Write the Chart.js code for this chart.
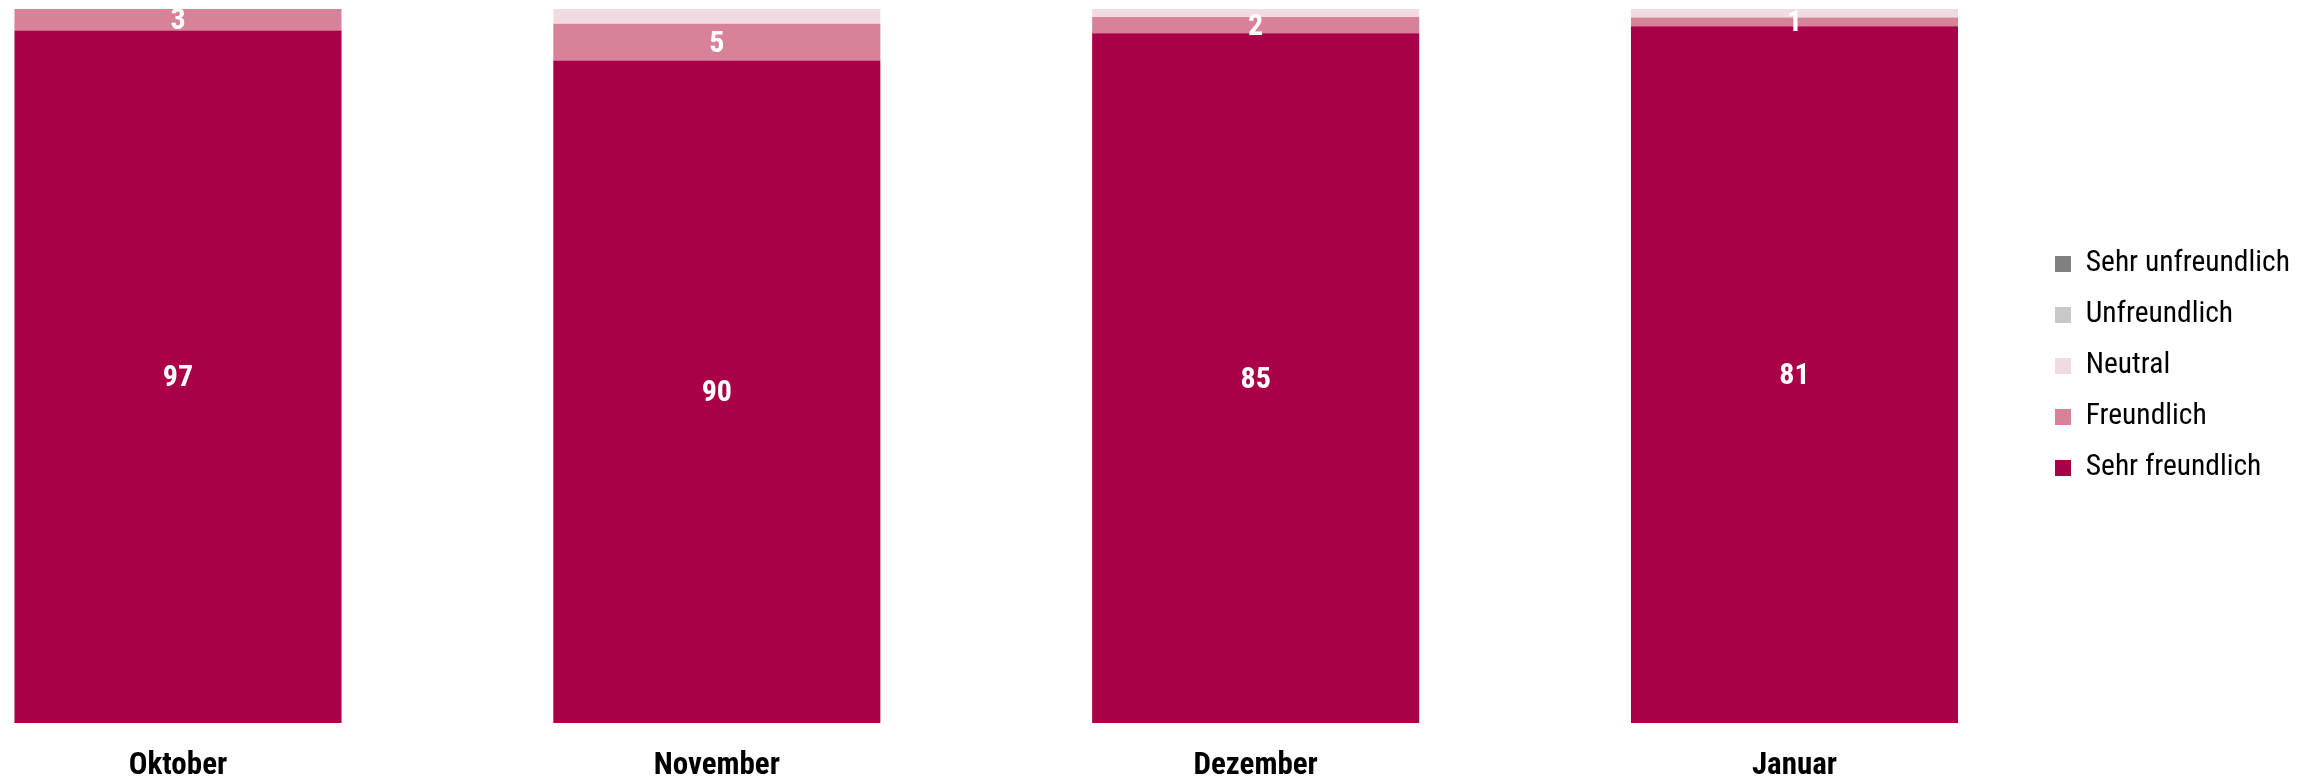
<!DOCTYPE html>
<html>
<head>
<meta charset="utf-8">
<script src="https://cdn.jsdelivr.net/npm/chart.js@4.4.0/dist/chart.umd.min.js"></script>
<style>
html,body{margin:0;padding:0;background:#fff;}
#wrap{width:2316px;height:776px;position:relative;}
</style>
</head>
<body>
<div id="wrap"><canvas id="c"></canvas></div>
<script>
// ---- data (counts) ----
const categories = ['Oktober', 'November', 'Dezember', 'Januar'];
const sehrFreundlich   = [97, 90, 85, 81];
const freundlich       = [3, 5, 2, 1];
const neutral          = [0, 2, 1, 1];
const unfreundlich     = [0, 0, 0, 0];
const sehrUnfreundlich = [0, 0, 0, 0];
const seriesNames  = ['Sehr freundlich', 'Freundlich', 'Neutral', 'Unfreundlich', 'Sehr unfreundlich'];
const seriesColors = ['#AA0048', '#D8829A', '#F2DAE1', '#C8C8C8', '#808080'];
const labelledSeries = [0, 1];

const FONT = "'Roboto Condensed', 'DejaVu Sans Condensed', sans-serif";
Chart.defaults.font.family = FONT;

const seriesCounts = [sehrFreundlich, freundlich, neutral, unfreundlich, sehrUnfreundlich];
const totals = categories.map((_, i) => seriesCounts.reduce((s, a) => s + a[i], 0));
const toPct = arr => arr.map((v, i) => totals[i] ? v / totals[i] * 100 : 0);

const datasets = seriesCounts.map((arr, k) => ({
  label: seriesNames[k],
  data: toPct(arr),
  counts: arr,
  backgroundColor: seriesColors[k],
  borderWidth: 0,
  categoryPercentage: 1,
  barPercentage: 0.607,
  clip: false
}));

const valueLabels = {
  id: 'valueLabels',
  afterDatasetsDraw(chart) {
    const ctx = chart.ctx;
    ctx.save();
    ctx.font = 'bold 30px ' + FONT;
    ctx.fillStyle = '#ffffff';
    ctx.textAlign = 'center';
    ctx.textBaseline = 'middle';
    labelledSeries.forEach(di => {
      const meta = chart.getDatasetMeta(di);
      const counts = chart.data.datasets[di].counts;
      meta.data.forEach((bar, i) => {
        if (!counts[i]) return;
        ctx.fillText(String(counts[i]), bar.x, (bar.y + bar.base) / 2 + 2);
      });
    });
    ctx.restore();
  }
};

new Chart(document.getElementById('c'), {
  type: 'bar',
  data: { labels: categories, datasets },
  plugins: [valueLabels],
  options: {
    responsive: true,
    maintainAspectRatio: false,
    animation: false,
    layout: { padding: { left: 178, top: 9, right: 22.5, bottom: 0 } },
    scales: {
      x: {
        stacked: true,
        offset: false,
        grid: { display: false, drawTicks: false },
        border: { display: false },
        ticks: {
          autoSkip: false, maxRotation: 0, padding: 25,
          color: '#000000',
          font: { family: FONT, size: 31, weight: 'bold' }
        },
        afterFit(scale) { scale.height = 53; }
      },
      y: {
        stacked: true,
        min: 0, max: 100,
        position: 'right',
        grid: { display: false, drawTicks: false },
        border: { display: false },
        ticks: { display: false },
        afterFit(scale) { scale.width = 239; }
      }
    },
    plugins: {
      tooltip: { enabled: false },
      legend: {
        position: 'right',
        reverse: true,
        fullSize: false,
        maxWidth: 260,
        labels: {
          boxWidth: 16,
          boxHeight: 16,
          padding: 21.5,
          color: '#000000',
          font: { family: FONT, size: 29.5 }
        }
      }
    }
  }
});
</script>
</body>
</html>
